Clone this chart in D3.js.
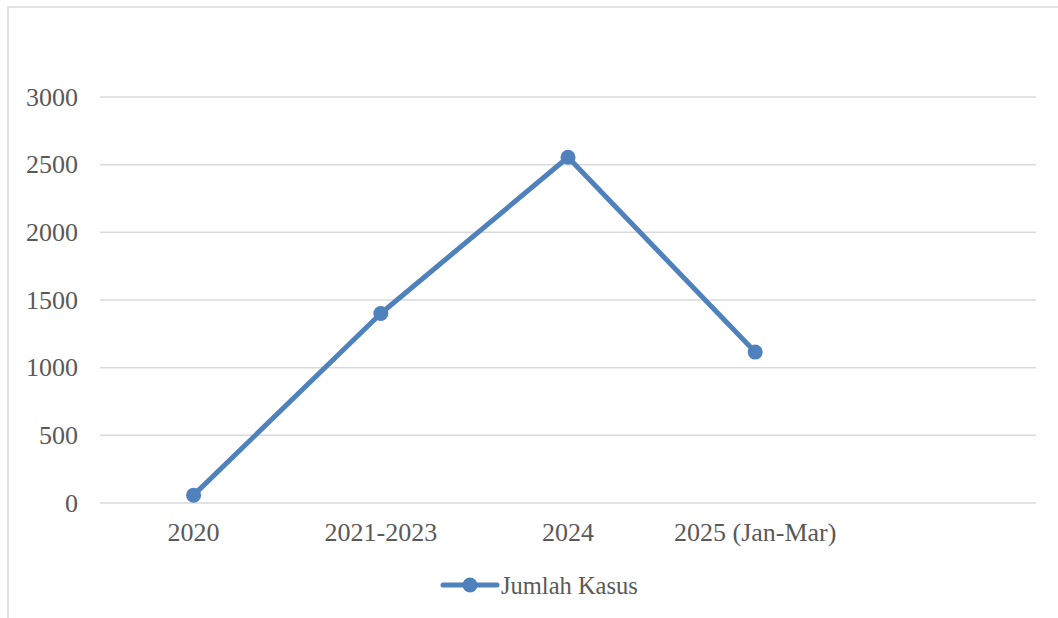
<!DOCTYPE html>
<html><head><meta charset="utf-8">
<script src="https://cdn.jsdelivr.net/npm/d3@7"></script>
<style>
html,body{margin:0;padding:0;background:#fff;}
svg{display:block;}
text{font-family:"Liberation Serif","DejaVu Serif",serif;fill:#595959;}
</style></head>
<body>
<svg id="chart" width="1058" height="618"></svg>
<script>
const categories = ["2020", "2021-2023", "2024", "2025 (Jan-Mar)", ""];
const values = [58, 1400, 2555, 1115];
const yTicks = [0, 500, 1000, 1500, 2000, 2500, 3000];
const seriesName = "Jumlah Kasus";

(function () {
const svg = d3.select("#chart");
const W = 1058, H = 618;
const pLeft = 100, pRight = 1036, pTop = 97, pBottom = 503;
const blue = "#4f81bd";

// outer border
svg.append("rect").attr("x", 8).attr("y", 7).attr("width", W + 10).attr("height", H + 10)
  .attr("fill", "none").attr("stroke", "#d9d9d9").attr("stroke-width", 1.5);

const x = d3.scaleBand().domain(categories.map((c, i) => i)).range([pLeft, pRight]);
const y = d3.scaleLinear().domain([0, 3000]).range([pBottom, pTop]);

// gridlines
svg.append("g").selectAll("line").data(yTicks).join("line")
  .attr("x1", pLeft).attr("x2", pRight)
  .attr("y1", d => y(d)).attr("y2", d => y(d))
  .attr("stroke", "#d9d9d9").attr("stroke-width", 1.5);

// y axis labels
const yAxis = d3.axisLeft(y).tickValues(yTicks).tickSize(0).tickPadding(22).tickFormat(d3.format("d"));
const ga = svg.append("g").attr("transform", `translate(${pLeft},0)`).call(yAxis);
ga.select(".domain").remove();
ga.selectAll("text").attr("font-size", 26).attr("font-family", "Liberation Serif").attr("fill", "#595959");

// x axis labels
const xAxis = d3.axisBottom(x).tickSize(0).tickPadding(20).tickFormat(i => categories[i]);
const gx = svg.append("g").attr("transform", `translate(0,${pBottom})`).call(xAxis);
gx.select(".domain").remove();
gx.selectAll("text").attr("font-size", 26).attr("font-family", "Liberation Serif").attr("fill", "#595959");

// line
const pts = values.map((v, i) => [x(i) + x.bandwidth() / 2, y(v)]);
svg.append("path").attr("d", d3.line()(pts))
  .attr("fill", "none").attr("stroke", blue).attr("stroke-width", 5)
  .attr("stroke-linejoin", "round").attr("stroke-linecap", "round");
svg.append("g").selectAll("circle").data(pts).join("circle")
  .attr("cx", d => d[0]).attr("cy", d => d[1]).attr("r", 7.5).attr("fill", blue);

// legend
const lg = svg.append("g");
lg.append("line").attr("x1", 443).attr("x2", 497).attr("y1", 585).attr("y2", 585)
  .attr("stroke", blue).attr("stroke-width", 5).attr("stroke-linecap", "round");
lg.append("circle").attr("cx", 470).attr("cy", 585).attr("r", 7.5).attr("fill", blue);
lg.append("text").attr("x", 501).attr("y", 594).attr("font-size", 24.5).text(seriesName);
})();
</script>
</body></html>
